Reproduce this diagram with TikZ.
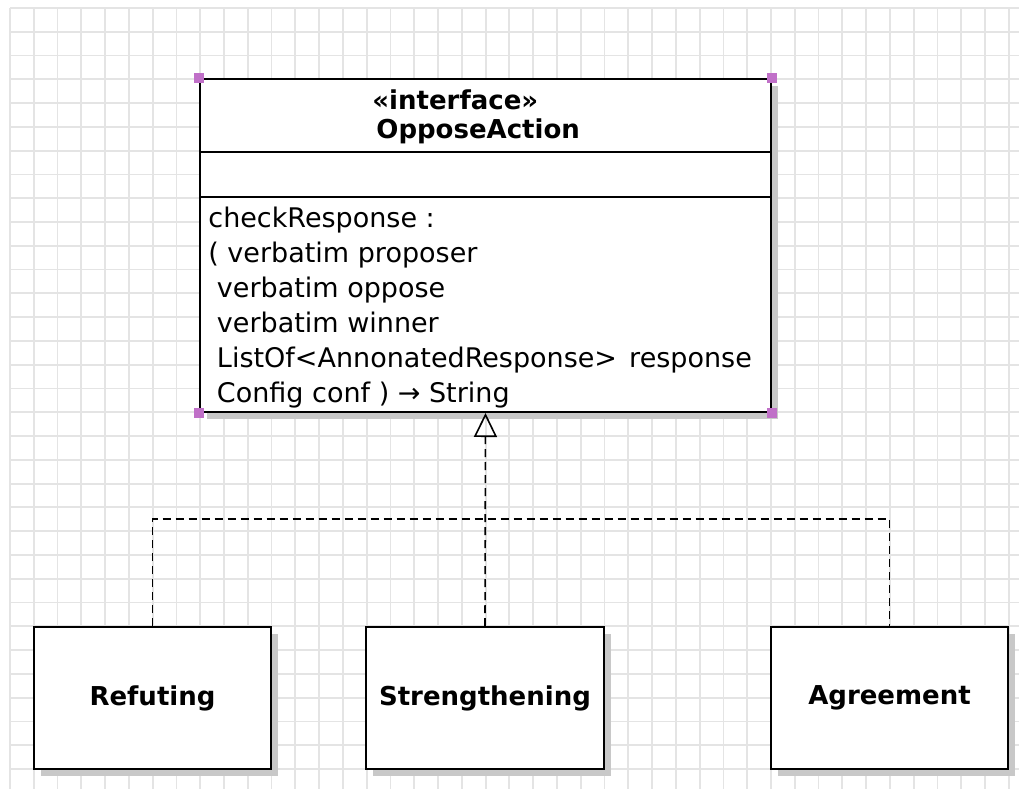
\documentclass[tikz,border=0pt]{standalone}
\usepackage{fontspec}
\setmainfont{DejaVu Sans}
\usepackage{xcolor}
\usepackage{tikz}
\definecolor{umlgrid}{RGB}{228,228,228}
\definecolor{umlshadow}{RGB}{200,200,200}
\definecolor{umlhandle}{RGB}{192,112,200}
\usetikzlibrary{shapes,arrows.meta,positioning,shadows}

\begin{document}
\begin{tikzpicture}[x=0.5pt, y=-0.5pt,
    classbox/.style={rectangle, draw=black, line width=1pt, fill=white, minimum width=118.5pt, minimum height=71pt, font=\bfseries\fontsize{13}{16}\selectfont, drop shadow={shadow xshift=3.5pt, shadow yshift=-3.5pt, fill=umlshadow, opacity=1}},
    realize/.style={dashed, dash pattern=on 4pt off 2.5pt, line width=0.8pt},
    headtext/.style={anchor=west, inner sep=0pt, font=\bfseries\fontsize{13}{16}\selectfont}]
    \fill[white] (0,0) rectangle (1019,789);
    \useasboundingbox (0,0) rectangle (1019,789);
    % grid paper
    \foreach \k in {0,...,42}
        \draw[umlgrid, line width=0.9pt] ({10+23.78*\k},8) -- ({10+23.78*\k},789);
    \foreach \k in {0,...,32}
        \draw[umlgrid, line width=0.9pt] (10,{8+23.78*\k}) -- (1019,{8+23.78*\k});

    % interface
    \node[classbox, minimum width=285.5pt, minimum height=166.5pt] (iface) at (485.5,245.5) {};
    \node[headtext] (stereo) at (372,100) {«interface»};
    \node[headtext] (ifacename) at (376,131) {OpposeAction};
    \draw[line width=1pt] (iface.west |- 0,152) -- (iface.east |- 0,152);
    \draw[line width=1pt] (iface.west |- 0,197) -- (iface.east |- 0,197);
    \node[anchor=north west, inner sep=0pt, align=left, font=\fontsize{13.5}{17.5}\selectfont] (ops) at (208,207)
        {checkResponse :\\( verbatim proposer\\\ verbatim oppose\\\ verbatim winner\\\ ListOf<AnnonatedResponse>\hspace{0.45em}response\\\ Config conf ) → String};
    \foreach \c in {north west, north east, south west, south east}
        \fill[umlhandle] ([xshift=-2.5pt, yshift=-2.5pt]iface.\c) rectangle ++(5pt,5pt);

    % implementing classes
    \node[classbox] (refuting) at (152.5,698) {Refuting};
    \node[classbox, minimum width=119pt] (strength) at (485,698) {Strengthening};
    \node[classbox] (agreement) at (889.5,698) {Agreement};

    \coordinate (join) at (485,519);
    \draw[realize, -{Triangle[open, width=11.5pt, length=12pt, line width=0.8pt]}] (strength.north) -- (iface.south);
    \draw[realize] (refuting.north) |- (join) -| (agreement.north);
\end{tikzpicture}
\end{document}
